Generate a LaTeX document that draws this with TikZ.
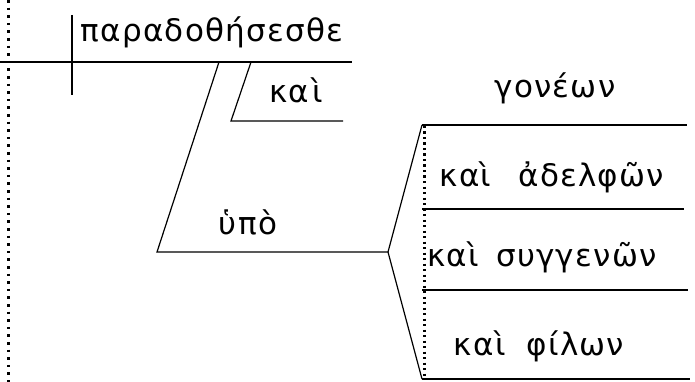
\documentclass[tikz,border=0pt]{standalone}
\usepackage{fontspec}
\setmainfont{DejaVu Sans}[LetterSpace=4]
\usetikzlibrary{positioning}
\begin{document}
\begin{tikzpicture}[x=1pt,y=-1pt,line width=1.2pt,
	word/.style={inner sep=0pt,font=\fontsize{31}{36}\selectfont},
	dotline/.style={line width=2.6pt,dash pattern=on 2.6pt off 5pt}]
	\useasboundingbox (0,0) rectangle (695,382);
	% left margin
	\draw[dotline] (8.5,0) -- (8.5,382);
	% subject / predicate
	\coordinate (base0) at (0,62);
	\coordinate (base1) at (352,62);
	\draw (base0) -- (base1);
	\draw (72,15) -- (72,95);
	\node[word] (verb) at (212,32) {παραδοθήσεσθε};
	% kai
	\coordinate (k0) at (251,62);
	\coordinate (k1) at (231,121);
	\coordinate (k2) at (343,121);
	\draw (k0) -- (k1) -- (k2);
	\node[word] (kai) at (296,90) {κα\hspace{3pt}ὶ};
	% hupo
	\coordinate (p0) at (219,62);
	\coordinate (p1) at (157,252);
	\coordinate (fork) at (388,252);
	\draw (p0) -- (p1) -- (fork);
	\node[word] (hupo) at (248,222) {ὑπὸ};
	% compound objects
	\coordinate (top) at (422,125);
	\coordinate (bot) at (422,379);
	\draw (top) -- (fork) -- (bot);
	\draw[dotline,dash pattern=on 2.2pt off 3.3pt] (424.5,126) -- (424.5,379);
	\foreach \y/\x in {125/687, 209/684, 290/688, 379/690}
		{\draw (422,\y) -- (\x,\y);}
	\node[word] (goneon) at (555,88) {γονέων};
	\node[word] (adelfon) at (552,177) {καὶ\hspace{16pt} ἀδελφῶν};
	\node[word] (suggenon) at (542,257) {καὶ\hspace{6pt} συγγενῶν};
	\node[word] (filon) at (539,346) {καὶ\hspace{10pt} φίλων};
\end{tikzpicture}
\end{document}
